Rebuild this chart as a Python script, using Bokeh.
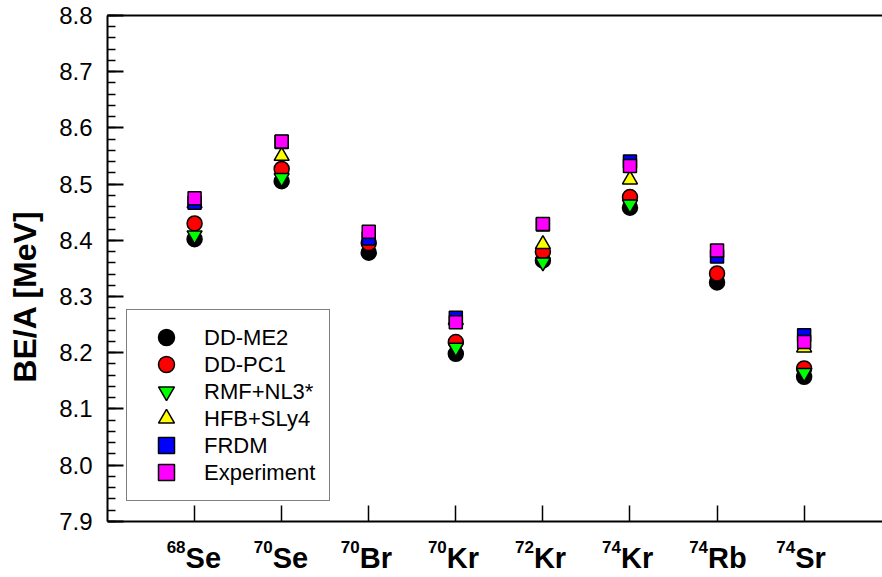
import numpy as np
from bokeh.plotting import figure
from bokeh.models import FixedTicker, LinearAxis, Legend, LegendItem, Range1d, PrintfTickFormatter
from bokeh.core.properties import value
from bokeh.embed import file_html
from bokeh.resources import INLINE

nan = float("nan")

# nuclei (x categories): mass number + element symbol
mass_numbers = ["68", "70", "70", "70", "72", "74", "74", "74"]
elements = ["Se", "Se", "Br", "Kr", "Kr", "Kr", "Rb", "Sr"]

# BE/A in MeV
dd_me2     = [8.402, 8.505, 8.378, 8.198, 8.364, 8.458, 8.325, 8.157]
dd_pc1     = [8.430, 8.527, 8.395, 8.219, 8.380, 8.477, 8.341, 8.172]
rmf_nl3s   = [8.409, 8.511, nan,   8.209, 8.361, 8.464, nan,   8.164]
hfb_sly4   = [8.466, 8.550, nan,   8.258, 8.393, 8.508, nan,   8.209]
frdm       = [8.467, 8.575, 8.403, 8.262, 8.428, 8.540, 8.371, 8.231]
experiment = [8.475, 8.576, 8.415, 8.254, 8.429, 8.532, 8.382, 8.219]

y_ticks = [7.9, 8.0, 8.1, 8.2, 8.3, 8.4, 8.5, 8.6, 8.7, 8.8]
Y_MIN, Y_MAX = 7.9, 8.8

xpos = list(range(1, len(elements) + 1))
FONT = "Liberation Sans"

# the frame runs down to the bottom edge so the nucleus labels can sit under the axis
Y_FRAME_LOW = 7.8
FRAME_TOP, HEIGHT = 15, 577
px_per_unit = (HEIGHT - FRAME_TOP) / (Y_MAX - Y_FRAME_LOW)

p = figure(width=882, height=HEIGHT, output_backend="svg", toolbar_location=None, title=None,
           x_range=Range1d(0, 8.9), y_range=Range1d(Y_FRAME_LOW, Y_MAX),
           min_border_left=107, min_border_right=0, min_border_top=FRAME_TOP, min_border_bottom=0)
p.outline_line_color = None
p.xgrid.visible = False
p.ygrid.visible = False
p.background_fill_color = "white"
p.border_fill_color = "white"

# y axis
minor = [round(v, 2) for v in np.arange(Y_MIN, Y_MAX + 0.0001, 0.02)]
p.yaxis.ticker = FixedTicker(ticks=y_ticks, minor_ticks=minor)
p.yaxis.bounds = (Y_MIN, Y_MAX)
p.yaxis.formatter = PrintfTickFormatter(format="%.1f")
p.yaxis.major_tick_in = 16
p.yaxis.major_tick_out = 0
p.yaxis.minor_tick_in = 8
p.yaxis.minor_tick_out = 0
p.yaxis.major_tick_line_width = 2
p.yaxis.minor_tick_line_width = 1.5
p.yaxis.axis_line_width = 2
p.yaxis.major_label_text_font = FONT
p.yaxis.major_label_text_font_size = "24px"
p.yaxis.major_label_text_color = "black"
p.yaxis.major_label_standoff = 15
p.yaxis.axis_label = "BE/A [MeV]"
p.yaxis.axis_label_text_font = FONT
p.yaxis.axis_label_text_font_style = "bold"
p.yaxis.axis_label_text_font_size = "32px"
p.yaxis.axis_label_text_color = "black"
p.yaxis.axis_label_standoff = 13

# x axis: line and ticks at 7.9; nucleus labels drawn as text below it
p.xaxis.fixed_location = Y_MIN
p.xaxis.ticker = FixedTicker(ticks=xpos)
p.xaxis.major_label_overrides = {x: "" for x in xpos}
p.xaxis.major_label_text_font_size = "0px"
p.xaxis.major_label_standoff = 0
p.xaxis.major_tick_in = 16
p.xaxis.major_tick_out = 0
p.xaxis.minor_tick_line_color = None
p.xaxis.major_tick_line_width = 1.5
p.xaxis.axis_line_width = 2

# top frame line
top = LinearAxis(ticker=FixedTicker(ticks=[]), major_label_text_font_size="0px",
                 major_tick_line_color=None, minor_tick_line_color=None,
                 axis_line_width=2, major_label_standoff=0)
p.add_layout(top, "above")

series = [
    ("DD-ME2", dd_me2, "circle", "#000000", 15),
    ("DD-PC1", dd_pc1, "circle", "#ff0000", 15),
    ("RMF+NL3*", rmf_nl3s, "inverted_triangle", "#00ff00", 15),
    ("HFB+SLy4", hfb_sly4, "triangle", "#ffff00", 15),
    ("FRDM", frdm, "square", "#0000ff", 13),
    ("Experiment", experiment, "square", "#ff00ff", 13),
]

renderers = []
for label, vals, marker, color, size in series:
    r = p.scatter(xpos, vals, marker=marker, size=size, fill_color=color,
                  line_color="black", line_width=1.5)
    renderers.append((label, r))

# nucleus labels: element symbol with superscript mass number
sym_y = Y_MIN - 37 / px_per_unit
num_y = Y_MIN - 26 / px_per_unit
p.text(x=xpos, y=[sym_y] * len(xpos), text=elements, x_offset=-9,
       text_align="left", text_baseline="alphabetic", text_font=value(FONT),
       text_font_style="bold", text_font_size="29px", text_color="black")
p.text(x=xpos, y=[num_y] * len(xpos), text=mass_numbers, x_offset=-9,
       text_align="right", text_baseline="alphabetic", text_font=value(FONT),
       text_font_style="bold", text_font_size="17px", text_color="black")

# legend frame and labels
bottom_gap = round((HEIGHT - 500.7))
legend = Legend(items=[LegendItem(label=l, renderers=[r]) for l, r in renderers],
                location=(19, bottom_gap), padding=14, spacing=0,
                glyph_height=27, glyph_width=51, label_standoff=12, label_width=111,
                label_text_font=FONT, label_text_font_size="22px", label_text_color="black",
                border_line_color="black", border_line_width=1.5,
                background_fill_color="white", background_fill_alpha=1.0, margin=0)
p.add_layout(legend)

# larger legend markers, one per row, drawn over the row glyphs
for i, (l, r) in enumerate(renderers):
    mk = Legend(items=[LegendItem(label=" ", renderers=[r])],
                location=(39, round(HEIGHT - 20 - (337.3 + 26.9 * i))), padding=0, spacing=0,
                glyph_height=40, glyph_width=40, label_standoff=0, label_width=0,
                label_text_font_size="1px", border_line_color=None,
                background_fill_alpha=0.0, margin=0)
    p.add_layout(mk)

open("out.html", "w").write(file_html(p, INLINE))
